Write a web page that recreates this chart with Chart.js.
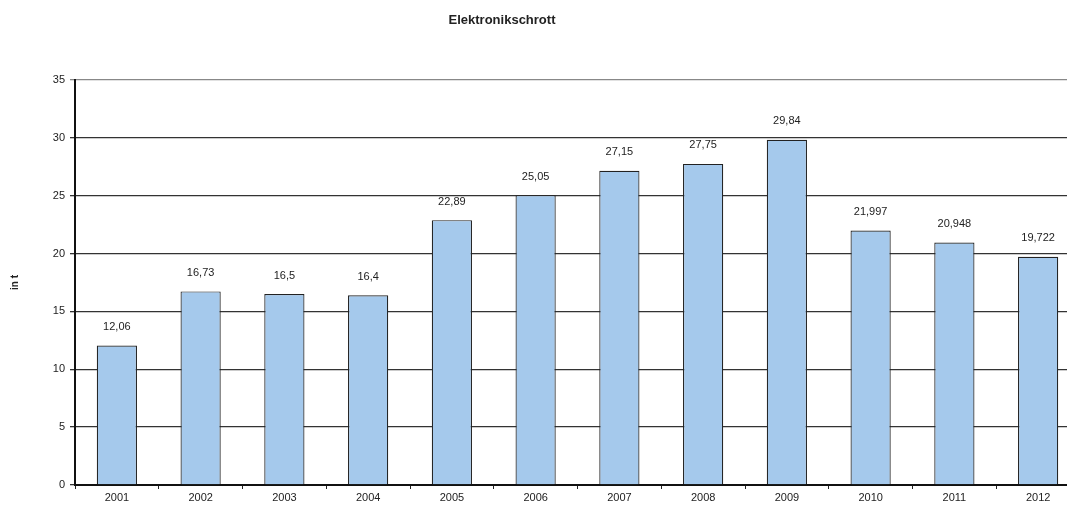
<!DOCTYPE html>
<html>
<head>
<meta charset="utf-8">
<script src="https://cdn.jsdelivr.net/npm/chart.js@4"></script>
<style>
html,body{margin:0;padding:0;background:#fff;overflow:hidden;}
/* the original plot runs past the right edge of the picture */
#wrap{width:1080px;height:511px;position:relative;}
</style>
</head>
<body>
<div id="wrap"><canvas id="chart"></canvas></div>
<script>
const years = ["2001","2002","2003","2004","2005","2006","2007","2008","2009","2010","2011","2012"];
const tonnes = [12.06, 16.73, 16.5, 16.4, 22.89, 25.05, 27.15, 27.75, 29.84, 21.997, 20.948, 19.722];
const chartTitle = "Elektronikschrott";
const yTitle = "in t";

const FONT = "Arial, 'Liberation Sans', sans-serif";

/* title drawn slightly left of centre, like the original */
const titlePlugin = {
  id: "titleText",
  afterDraw(chart){
    const c = chart.ctx;
    c.save();
    c.font = "bold 13px " + FONT;
    c.fillStyle = "#222";
    c.textAlign = "center";
    c.textBaseline = "middle";
    c.fillText(chartTitle, 502, 20);
    c.restore();
  }
};

/* value labels above bars */
const valuePlugin = {
  id: "valueLabels",
  afterDatasetsDraw(chart){
    const c = chart.ctx;
    const meta = chart.getDatasetMeta(0);
    c.save();
    c.font = "11px " + FONT;
    c.fillStyle = "#222";
    c.textAlign = "center";
    c.textBaseline = "bottom";
    meta.data.forEach((bar, i) => {
      const txt = String(tonnes[i]).replace(".", ",");
      c.fillText(txt, bar.x, bar.y - 13);
    });
    c.restore();
  }
};

new Chart(document.getElementById("chart"), {
  type: "bar",
  data: {
    labels: years,
    datasets: [{
      data: tonnes,
      backgroundColor: "#a5c9ec",
      borderColor: "#222",
      borderWidth: 1.2,
      categoryPercentage: 1,
      barPercentage: 0.48
    }]
  },
  options: {
    responsive: true,
    maintainAspectRatio: false,
    animation: false,
    layout: { padding: { top: 80, right: 0, left: 0, bottom: 0 } },
    plugins: {
      legend: { display: false },
      title: { display: false },
      tooltip: { enabled: false }
    },
    scales: {
      x: {
        offset: true,
        grid: { offset: true, drawOnChartArea: false, drawTicks: true, tickLength: 4, color: "#222" },
        border: { color: "#111", width: 2 },
        ticks: { color: "#222", font: { size: 11, family: FONT }, padding: 2, maxRotation: 0 },
        afterFit(scale){ scale.height = 26; }
      },
      y: {
        min: 0,
        max: 35,
        ticks: { stepSize: 5, color: "#222", font: { size: 11, family: FONT }, padding: 5 },
        grid: {
          color: ctx => (ctx.tick && ctx.tick.value === 35) ? "#888" : "#333",
          lineWidth: 1.3,
          tickLength: 5
        },
        border: { color: "#111", width: 2 },
        title: { display: true, text: yTitle, color: "#222", font: { size: 10, weight: "bold", family: FONT }, padding: { top: 9, bottom: 0 } },
        afterFit(scale){ scale.width = 75; }
      }
    }
  },
  plugins: [titlePlugin, valuePlugin]
});
</script>
</body>
</html>
